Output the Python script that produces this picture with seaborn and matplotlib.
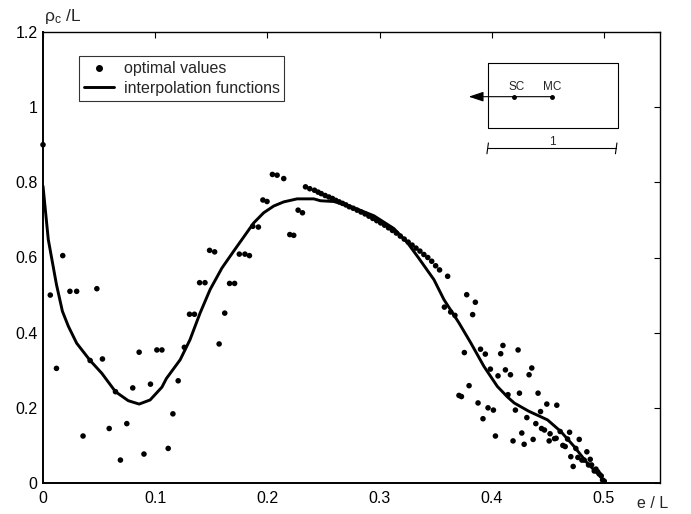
import matplotlib
matplotlib.use("Agg")
import matplotlib.pyplot as plt
import seaborn as sns
import pandas as pd
from matplotlib.lines import Line2D

# ---- data: optimal values (dots) ----
opt_x = [0.0, 0.0065, 0.012, 0.0176, 0.024, 0.030, 0.0357, 0.042, 0.048, 0.053,
         0.059, 0.0646, 0.069, 0.0747, 0.080, 0.0857, 0.090, 0.0958, 0.1015, 0.106,
         0.1116, 0.1158, 0.1205, 0.126, 0.1306, 0.135, 0.1396, 0.1444, 0.1485, 0.153,
         0.157, 0.162, 0.1663, 0.1708, 0.175, 0.180, 0.184, 0.187, 0.192, 0.196,
         0.1997, 0.2045, 0.2087, 0.2146, 0.220, 0.2235, 0.2274, 0.2313,
         0.234, 0.2378, 0.242, 0.2452, 0.248, 0.2515, 0.2548, 0.258, 0.261, 0.264,
         0.267, 0.270, 0.273, 0.2765, 0.280, 0.2835, 0.287, 0.2905, 0.294, 0.2975,
         0.301, 0.3045, 0.308, 0.3115, 0.315, 0.3185, 0.322, 0.3255, 0.329, 0.3325,
         0.336, 0.3395, 0.343, 0.3465, 0.350, 0.3535, 0.3607,
         0.3777, 0.3854, 0.383, 0.3578, 0.3634, 0.3672, 0.3756, 0.390, 0.3943, 0.410,
         0.408, 0.4235, 0.3988, 0.4056, 0.4122, 0.4167, 0.4357, 0.4333, 0.3798, 0.3708,
         0.373, 0.4145, 0.4247, 0.4413, 0.3878, 0.3967, 0.4015, 0.3922, 0.4211, 0.4313,
         0.4435, 0.4491, 0.458, 0.4393, 0.4444, 0.447, 0.4033, 0.419, 0.4268, 0.4289,
         0.4369, 0.4512, 0.452, 0.456, 0.4574, 0.461, 0.4694, 0.4634, 0.4655, 0.4676,
         0.478, 0.475, 0.4705, 0.4726, 0.4768, 0.4804, 0.4848, 0.4824, 0.4878, 0.4863,
         0.489, 0.4914, 0.4929, 0.4944, 0.4958, 0.4976, 0.4988, 0.5003]
opt_y = [0.90, 0.50, 0.305, 0.605, 0.51, 0.51, 0.125, 0.326, 0.517, 0.33,
         0.145, 0.243, 0.061, 0.158, 0.253, 0.348, 0.077, 0.263, 0.354, 0.354,
         0.092, 0.184, 0.272, 0.361, 0.449, 0.449, 0.533, 0.533, 0.619, 0.615,
         0.37, 0.452, 0.531, 0.531, 0.609, 0.609, 0.605, 0.683, 0.681, 0.753,
         0.749, 0.821, 0.819, 0.81, 0.661, 0.659, 0.726, 0.719,
         0.788, 0.783, 0.779, 0.774, 0.770, 0.765, 0.761, 0.757, 0.752, 0.748,
         0.744, 0.740, 0.735, 0.731, 0.726, 0.721, 0.716, 0.710, 0.704, 0.698,
         0.692, 0.686, 0.679, 0.672, 0.665, 0.657, 0.649, 0.641, 0.633, 0.625,
         0.617, 0.608, 0.600, 0.590, 0.578, 0.567, 0.55,
         0.501, 0.481, 0.448, 0.468, 0.455, 0.446, 0.347, 0.356, 0.343, 0.366,
         0.344, 0.354, 0.303, 0.285, 0.301, 0.288, 0.306, 0.288, 0.259, 0.233,
         0.23, 0.235, 0.239, 0.239, 0.213, 0.20, 0.194, 0.171, 0.194, 0.174,
         0.19, 0.21, 0.207, 0.158, 0.145, 0.141, 0.125, 0.112, 0.133, 0.103,
         0.116, 0.112, 0.131, 0.118, 0.119, 0.137, 0.135, 0.10, 0.097, 0.117,
         0.116, 0.092, 0.07, 0.044, 0.068, 0.061, 0.083, 0.061, 0.063, 0.048,
         0.048, 0.032, 0.037, 0.03, 0.024, 0.019, 0.008, 0.005]

# ---- data: interpolation function (line) ----
curve_x = [0.0, 0.0047, 0.012, 0.0173, 0.0226, 0.030, 0.042, 0.0524, 0.0646, 0.076,
           0.0857, 0.0955, 0.106, 0.110, 0.1223, 0.131, 0.140, 0.149, 0.1595, 0.170,
           0.1878, 0.1967, 0.2057, 0.2146, 0.2265, 0.2414, 0.2473, 0.2592, 0.2711, 0.280,
           0.295, 0.3128, 0.3247, 0.335, 0.3485, 0.3574, 0.3708, 0.3813, 0.3931, 0.405,
           0.414, 0.420, 0.433, 0.4497, 0.4616, 0.4735, 0.4854, 0.4973, 0.4995]
curve_y = [0.79, 0.648, 0.528, 0.457, 0.417, 0.372, 0.326, 0.292, 0.243, 0.219,
           0.21, 0.221, 0.255, 0.278, 0.328, 0.381, 0.452, 0.515, 0.572, 0.617,
           0.692, 0.719, 0.737, 0.748, 0.756, 0.756, 0.751, 0.749, 0.739, 0.729,
           0.711, 0.677, 0.640, 0.598, 0.541, 0.488, 0.426, 0.373, 0.31, 0.257,
           0.229, 0.213, 0.191, 0.168, 0.137, 0.097, 0.052, 0.017, 0.005]

x_ticks = [0, 0.1, 0.2, 0.3, 0.4, 0.5]
x_tick_labels = ["0", "0.1", "0.2", "0.3", "0.4", "0.5"]
y_ticks = [0, 0.2, 0.4, 0.6, 0.8, 1.0, 1.2]
y_tick_labels = ["0", "0.2", "0.4", "0.6", "0.8", "1", "1.2"]

sns.set_style("white")
plt.rcParams["font.family"] = ["Liberation Sans", "DejaVu Sans"]
plt.rcParams["mathtext.fontset"] = "custom"
plt.rcParams["mathtext.rm"] = "Liberation Sans"

fig = plt.figure(figsize=(6.91, 5.14), dpi=100)
ax = fig.add_axes([43/691, 1-483/514, 617/691, 451/514])

dots = pd.DataFrame({"x": opt_x, "y": opt_y})
line = pd.DataFrame({"x": curve_x, "y": curve_y})

sns.lineplot(data=line, x="x", y="y", ax=ax, color="black", linewidth=2.1,
             sort=False, estimator=None)
sns.scatterplot(data=dots, x="x", y="y", ax=ax, color="black", s=16,
                edgecolor="none", zorder=3, clip_on=False)

ax.set_xlim(0, 0.55)
ax.set_ylim(0, 1.2)
ax.set_xticks(x_ticks)
ax.set_xticklabels(x_tick_labels)
ax.set_yticks(y_ticks)
ax.set_yticklabels(y_tick_labels)
ax.set_xlabel("")
ax.set_ylabel("")
ax.tick_params(direction="in", top=True, right=True, length=4, width=0.8,
               labelsize=11.5, colors="black")
ax.tick_params(axis="x", pad=6)
ax.tick_params(axis="y", pad=4)
for side, sp in ax.spines.items():
    sp.set_visible(True)
    sp.set_color("black")
    sp.set_linewidth(1.0)
ax.spines["left"].set_linewidth(1.4)
ax.spines["bottom"].set_linewidth(1.4)

# legend
handles = [Line2D([], [], marker="o", linestyle="none", color="black", markersize=4),
           Line2D([], [], color="black", linewidth=2.1)]
leg = ax.legend(handles, ["optimal values", "interpolation functions"],
                loc="upper left", bbox_to_anchor=(0.058, 0.946), borderaxespad=0,
                frameon=True, fancybox=False, edgecolor="black", fontsize=11.5,
                handlelength=1.9, handletextpad=0.6, labelspacing=0.3,
                borderpad=0.3)
leg.get_frame().set_linewidth(0.8)

# inset sketch (cross-section schematic)
T = ax.transAxes
ax.plot([0.7207, 0.9314, 0.9314, 0.7207, 0.7207],
        [0.9306, 0.9306, 0.7865, 0.7865, 0.9306], transform=T, color="black",
        lw=0.8, clip_on=False)
ax.annotate("", xy=(0.690, 0.8566), xytext=(0.8245, 0.8566), xycoords=T,
            textcoords=T, arrowprops=dict(arrowstyle="-|>,head_length=0.9,head_width=0.3",
                                          color="black", lw=0.8, shrinkA=0, shrinkB=0))
ax.plot([0.7634, 0.8245], [0.8566, 0.8566], "o", transform=T, color="black",
        markersize=2.5)
ax.text(0.768, 0.879, "SC", transform=T, fontsize=8.5, ha="center", va="center")
ax.text(0.8245, 0.879, "MC", transform=T, fontsize=8.5, ha="center", va="center")
ax.plot([0.7207, 0.929], [0.742, 0.742], transform=T, color="black", lw=0.8)
ax.plot([0.7195, 0.7219], [0.730, 0.754], transform=T, color="black", lw=0.8)
ax.plot([0.9278, 0.9302], [0.730, 0.754], transform=T, color="black", lw=0.8)
ax.text(0.825, 0.757, "1", transform=T, fontsize=8.5, ha="center", va="center")

# axis labels
fig.text(44/691, 1-17/514, r"$\mathregular{\rho_c}$ /L", fontsize=12.5,
         ha="left", va="center")
fig.text(653/691, 1-503/514, "e / L", fontsize=11.5, ha="center", va="center")

fig.savefig("out.png", dpi=100)
